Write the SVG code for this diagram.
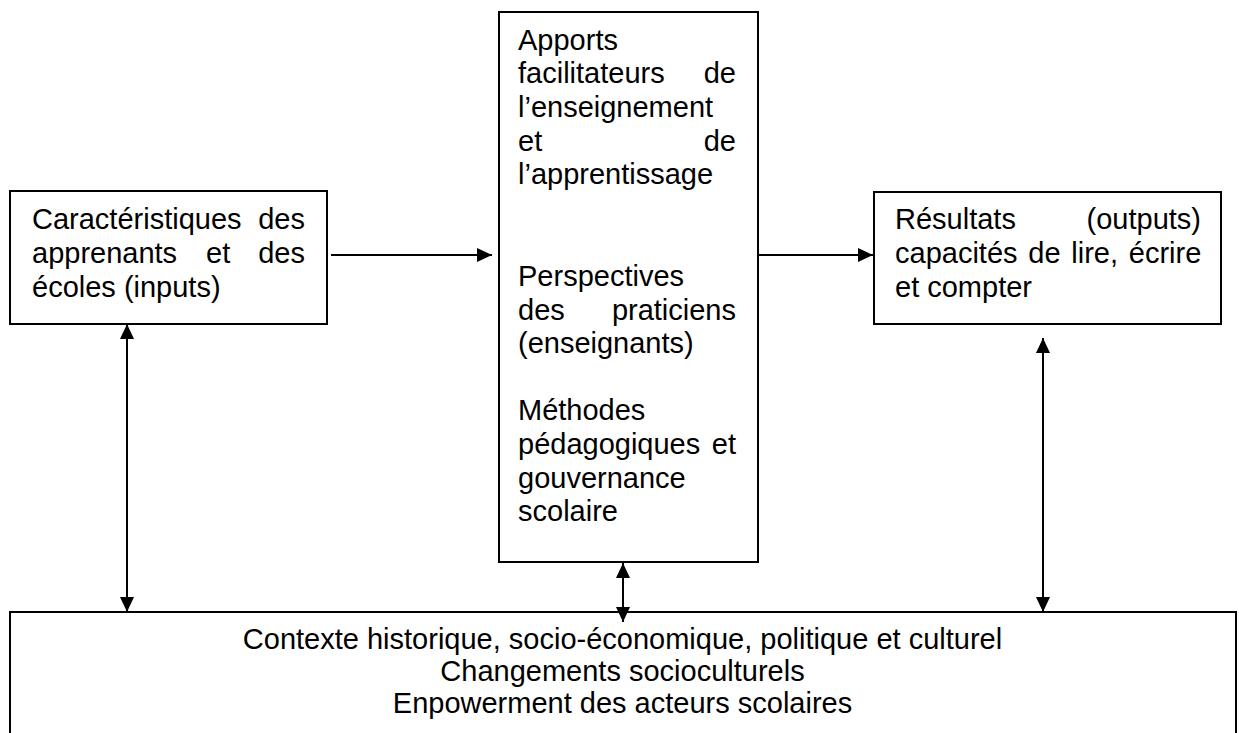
<svg xmlns="http://www.w3.org/2000/svg" width="1239" height="733" viewBox="0 0 1239 733">
<style>
.box{fill:#fff;stroke:#000;stroke-width:2}
.t{font-family:"Liberation Sans",Arial,sans-serif;font-size:29px;fill:#000}
.e{text-anchor:end}
.m{text-anchor:middle}
.c{stroke:#000;stroke-width:2;fill:none}
</style>
<defs>
<marker id="ah" markerUnits="userSpaceOnUse" markerWidth="16" markerHeight="15" refX="15" refY="7" orient="auto-start-reverse">
<path d="M0,0 L15,7 L0,14 z" fill="#000"/>
</marker>
</defs>
<rect width="1239" height="733" fill="#fff"/>
<g id="inputs">
<rect class="box" x="10" y="191" width="317" height="133"/>
<text class="t" x="32" y="229">Caractéristiques</text>
<text class="t e" x="305" y="229">des</text>
<text class="t" x="32" y="263">apprenants</text>
<text class="t" x="206" y="263">et</text>
<text class="t e" x="305" y="263">des</text>
<text class="t" x="32" y="297">écoles (inputs)</text>
</g>
<g id="apports">
<rect class="box" x="499" y="12" width="259" height="550"/>
<text class="t" x="518" y="49.5">Apports</text>
<text class="t" x="518" y="83.2">facilitateurs</text>
<text class="t e" x="736" y="83.2">de</text>
<text class="t" x="518" y="116.9">l’enseignement</text>
<text class="t" x="518" y="150.6">et</text>
<text class="t e" x="736" y="150.6">de</text>
<text class="t" x="518" y="184.3">l’apprentissage</text>
<text class="t" x="518" y="286">Perspectives</text>
<text class="t" x="518" y="319.5">des</text>
<text class="t e" x="736" y="319.5">praticiens</text>
<text class="t" x="518" y="353">(enseignants)</text>
<text class="t" x="518" y="420.2">Méthodes</text>
<text class="t" x="518" y="453.9">pédagogiques</text>
<text class="t e" x="736" y="453.9">et</text>
<text class="t" x="518" y="487.6">gouvernance</text>
<text class="t" x="518" y="521.3">scolaire</text>
</g>
<g id="resultats">
<rect class="box" x="874" y="192" width="347" height="132"/>
<text class="t" x="895" y="229">Résultats</text>
<text class="t e" x="1201" y="229">(outputs)</text>
<text class="t" x="895" y="263" word-spacing="2.7">capacités de lire, écrire</text>
<text class="t" x="895" y="297">et compter</text>
</g>
<g id="contexte">
<rect class="box" x="10" y="612" width="1226" height="140"/>
<text class="t m" x="622.5" y="649">Contexte historique, socio-économique, politique et culturel</text>
<text class="t m" x="622.5" y="681">Changements socioculturels</text>
<text class="t m" x="622.5" y="713">Enpowerment des acteurs scolaires</text>
</g>
<g id="connectors">
<line class="c" x1="331" y1="255" x2="492" y2="255" marker-end="url(#ah)"/>
<line class="c" x1="758" y1="255" x2="873" y2="255" marker-end="url(#ah)"/>
<line class="c" x1="127" y1="324" x2="127" y2="612" marker-start="url(#ah)" marker-end="url(#ah)"/>
<line class="c" x1="1043" y1="338" x2="1043" y2="612" marker-start="url(#ah)" marker-end="url(#ah)"/>
<line class="c" x1="623" y1="563" x2="623" y2="622" marker-start="url(#ah)" marker-end="url(#ah)"/>
</g>
</svg>
